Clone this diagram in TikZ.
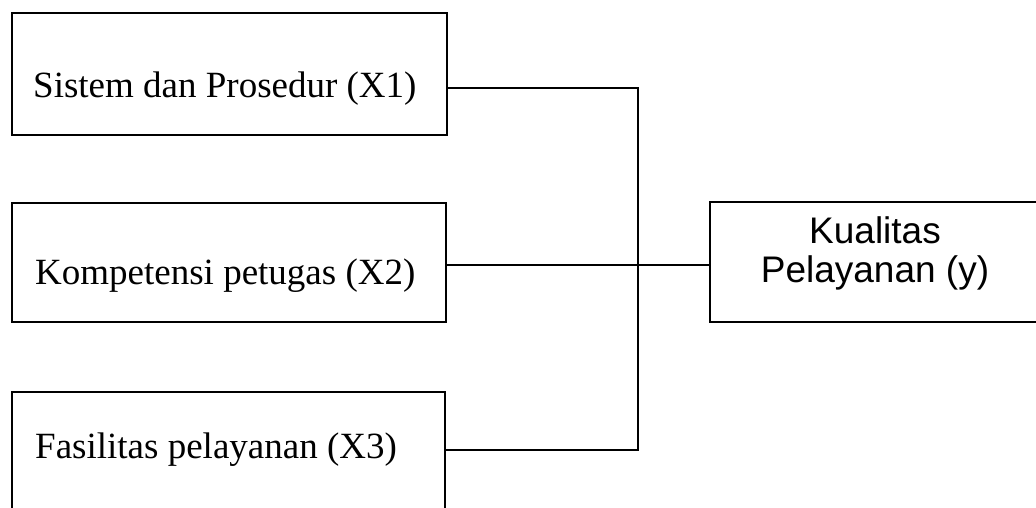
\documentclass[tikz,border=0pt]{standalone}
\usepackage{fontspec}
\setmainfont{Liberation Serif}
\newfontfamily\arialfont{Liberation Sans}
\begin{document}
\begin{tikzpicture}[x=1pt,y=-1pt,
  box/.style={draw=black,line width=2pt,rectangle,inner sep=0pt},
  lbl/.style={anchor=base west,inner sep=0pt,font=\fontsize{37}{40}\selectfont},
  conn/.style={draw=black,line width=2pt}]
\clip (0,0) rectangle (1036,507);
\fill[white] (0,0) rectangle (1036,507);
% boxes
\node[box,minimum width=435pt,minimum height=122pt] (b1) at (229.5,74) {};
\node[box,minimum width=434pt,minimum height=119pt] (b2) at (229,262.5) {};
\node[box,minimum width=433pt,minimum height=148pt] (b3) at (228.5,466) {};
\node[box,minimum width=340pt,minimum height=120pt] (y) at (880,262) {};
% texts
\node[lbl] (t1) at (33,97) {Sistem dan Prosedur (X1)};
\node[lbl] (t2) at (35,284) {Kompetensi petugas (X2)};
\node[lbl] (t3) at (35,458) {Fasilitas pelayanan (X3)};
\node[font=\arialfont\fontsize{37}{39}\selectfont,align=center,inner sep=0pt,anchor=base] (ty) at (875,282) {Kualitas\\Pelayanan (y)};
% connectors
\coordinate (j1) at (638,88);
\coordinate (j2) at (638,265);
\coordinate (j3) at (638,450);
\draw[conn] (b1.east |- j1) -- (j1) -- (j3) -- (b3.east |- j3);
\draw[conn] (b2.east |- j2) -- (y.west |- j2);
\end{tikzpicture}
\end{document}
